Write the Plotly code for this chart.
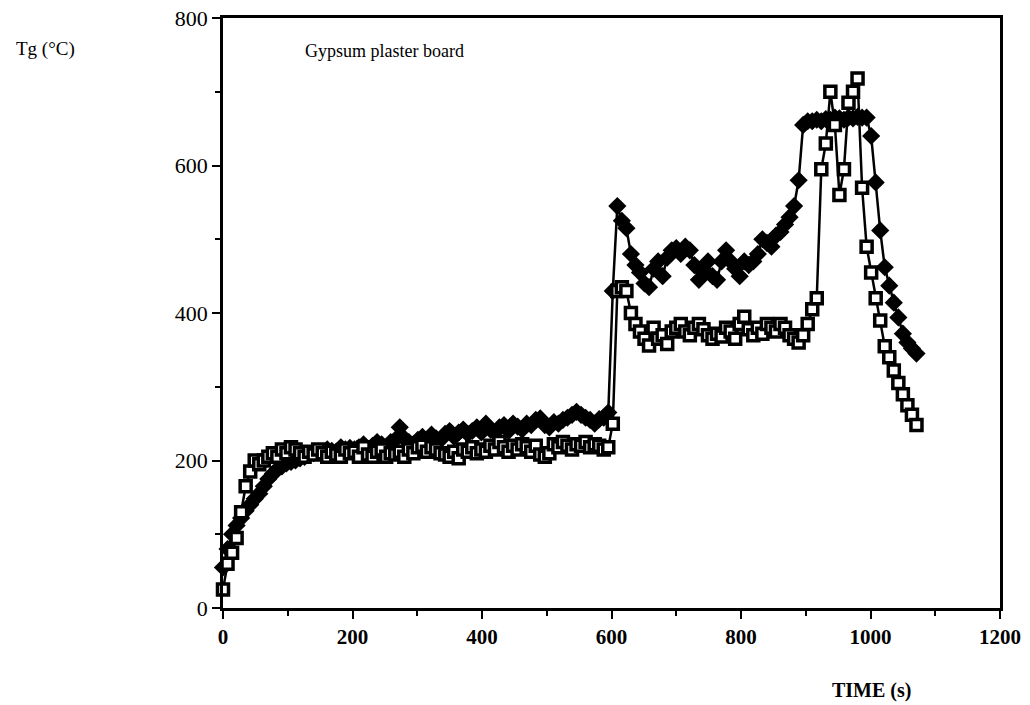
import plotly.graph_objects as go

# Time grid (s), 7-second sampling, shared by both series
TIME_S = list(range(0, 1072, 7))

# Open-square series (Tg, degC), rows of 10 samples (70 s per row)
TG_SQUARES = [
    25, 60, 75, 95, 130, 165, 185, 200, 195, 200,
    205, 210, 205, 215, 210, 218, 215, 210, 205, 212,
    208, 215, 210, 205, 212, 208, 205, 215, 210, 212,
    205, 218, 208, 205, 212, 215, 205, 210, 208, 212,
    205, 215, 210, 218, 220, 212, 218, 215, 210, 208,
    205, 212, 203, 215, 212, 218, 210, 215, 212, 220,
    215, 225, 218, 212, 220, 215, 222, 218, 212, 220,
    208, 205, 210, 222, 218, 225, 220, 215, 222, 220,
    225, 218, 222, 220, 215, 218, 250, 430, 435, 430,
    400, 385, 375, 365, 356, 380, 365, 370, 358, 375,
    380, 385, 375, 370, 380, 385, 378, 370, 365, 372,
    368, 380, 375, 365, 385, 395, 378, 370, 380, 372,
    385, 380, 375, 385, 380, 370, 365, 360, 370, 385,
    405, 420, 595, 630, 700, 655, 560, 595, 685, 700,
    718, 570, 490, 455, 420, 390, 355, 340, 322, 305,
    290, 275, 262, 248,
]

# Filled-diamond series (Tg, degC)
TG_DIAMONDS = [
    55, 80, 100, 112, 122, 132, 140, 148, 155, 165,
    175, 182, 188, 192, 196, 198, 200, 203, 205, 208,
    210, 212, 210, 215, 213, 212, 218, 215, 217, 215,
    218, 222, 215, 220, 225, 222, 218, 225, 228, 245,
    230, 225, 222, 228, 232, 226, 235, 230, 228, 236,
    240, 232, 238, 242, 236, 240, 245, 238, 250, 242,
    238, 245, 248, 240, 250, 246, 242, 250, 248, 255,
    257, 248, 245, 252, 250, 255, 258, 262, 266, 262,
    258, 255, 250, 256, 258, 265, 430, 545, 525, 515,
    480, 465, 455, 440, 435, 460, 470, 450, 475, 485,
    488, 480, 490, 485, 465, 445, 455, 470, 450, 445,
    470, 485, 470, 460, 450, 470, 465, 470, 480, 500,
    495, 490, 505, 510, 520, 530, 545, 580, 655, 660,
    660, 662, 660, 663, 662, 665, 664, 662, 665, 664,
    666, 665, 665, 640, 577, 512, 462, 437, 414, 394,
    372, 360, 352, 345,
]

X_TICKS = [0, 200, 400, 600, 800, 1000, 1200]
Y_TICKS = [0, 200, 400, 600, 800]

FONT = "Liberation Serif"

fig = go.Figure()
fig.add_trace(go.Scatter(
    x=TIME_S, y=TG_DIAMONDS, mode="lines+markers",
    line=dict(color="black", width=2.5),
    marker=dict(symbol="diamond", size=14, color="black"),
    showlegend=False, cliponaxis=False,
))
fig.add_trace(go.Scatter(
    x=TIME_S, y=TG_SQUARES, mode="lines+markers",
    line=dict(color="black", width=2.5),
    marker=dict(symbol="square", size=11, color="white",
                line=dict(color="black", width=3.5)),
    showlegend=False, cliponaxis=False,
))

axis_common = dict(
    showline=True, linecolor="black", linewidth=2.5, mirror=True,
    showgrid=False, zeroline=False, ticks="outside", ticklen=8,
    tickwidth=2, tickcolor="black", automargin=False,
    ticklabeloverflow="allow",
)
fig.update_xaxes(
    range=[0, 1200], tickvals=X_TICKS,
    tickfont=dict(family=FONT, size=21, color="black", weight="bold"),
    minor=dict(dtick=100, ticks="outside", ticklen=5, tickcolor="black", tickwidth=1.5),
    ticklabelstandoff=0,
    **axis_common,
)
fig.update_yaxes(
    range=[0, 800], tickvals=Y_TICKS,
    tickfont=dict(family=FONT, size=22, color="black"),
    minor=dict(dtick=100, ticks="outside", ticklen=5, tickcolor="black", tickwidth=1.5),
    ticklabelstandoff=0,
    **axis_common,
)

fig.add_annotation(text="Tg (°C)", xref="paper", yref="paper",
                   x=-0.228, y=0.947, xanchor="center", yanchor="middle",
                   showarrow=False,
                   font=dict(family=FONT, size=19, color="black"))
fig.add_annotation(text="<b>TIME (s)</b>", xref="paper", yref="paper",
                   x=0.835, y=-0.139, xanchor="center", yanchor="middle",
                   showarrow=False,
                   font=dict(family=FONT, size=20, color="black"))
fig.add_annotation(text="Gypsum plaster board", x=124, y=755,
                   xanchor="left", yanchor="middle", showarrow=False,
                   font=dict(family=FONT, size=18, color="black"))

fig.update_layout(
    width=1030, height=705,
    margin=dict(l=223, r=30, t=18, b=97),
    paper_bgcolor="white", plot_bgcolor="white",
)

# remove the browser's default 8px body margin so the figure fills the window
fig.write_html("out.html", config={"displayModeBar": False},
               post_script="document.body.style.margin='0';")
